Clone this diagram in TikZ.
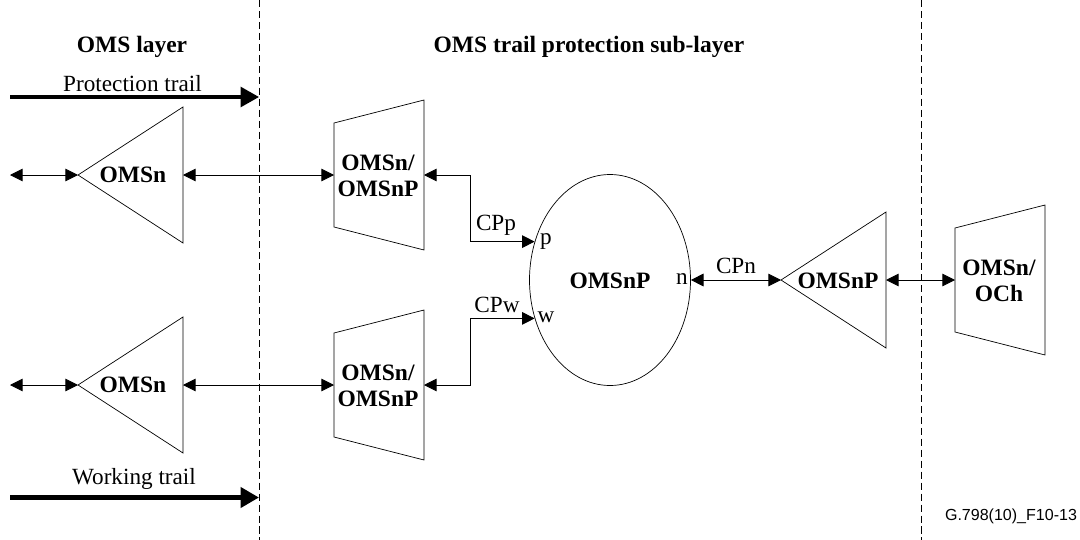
\documentclass[tikz,border=0pt]{standalone}
\usepackage{fontspec}
\setmainfont{Liberation Serif}
\newfontfamily\capfont{Liberation Sans}
\usepackage{tikz}
\usetikzlibrary{positioning,arrows.meta,shapes.geometric}
% triangle pointing left: apex name-l, back side name-r
\newcommand{\trishape}[3]{%
  \coordinate (#1-l) at (#2,#3);
  \coordinate (#1-r) at (#2+105,#3);
  \draw[shp] (#1-l) -- (#2+105,#3-68) -- (#1-r) -- (#2+105,#3+68) -- cycle;
}
% trapezium widening to the right
\newcommand{\trapshape}[3]{%
  \coordinate (#1-l) at (#2,#3);
  \coordinate (#1-r) at (#2+90,#3);
  \draw[shp] (#1-l) -- (#2,#3-52) -- (#2+90,#3-75) -- (#1-r) -- (#2+90,#3+75) -- (#2,#3+52) -- cycle;
}
\begin{document}
\begin{tikzpicture}[x=0.025cm,y=-0.025cm,
  shp/.style={draw,line width=0.5pt,line join=miter},
  lbl/.style={font=\fontsize{16.7}{18.7}\selectfont\bfseries,align=center,inner sep=0pt},
  txt/.style={font=\fontsize{16.5}{18}\selectfont,inner sep=0pt},
  bi/.style={{Stealth[length=9pt,width=9pt,inset=0pt]}-{Stealth[length=9pt,width=9pt,inset=0pt]},line width=0.6pt},
  trail/.style={-{Stealth[length=13pt,width=14pt,inset=0pt]},line width=2.4pt},
  bound/.style={draw,line width=0.5pt,dash pattern=on 5pt off 2.8pt}]
  \useasboundingbox (0,0) rectangle (1080,540);
  % layer boundaries
  \coordinate (b1t) at (259,0);
  \coordinate (b1b) at (259,540);
  \coordinate (b2t) at (921,0);
  \coordinate (b2b) at (921,540);
  \draw[bound] (b1t) -- (b1b);
  \draw[bound] (b2t) -- (b2b);
  % headings
  \node[lbl] (h1) at (132,47) {OMS layer};
  \node[lbl] (h2) at (589,47) {OMS trail protection sub-layer};
  % trails
  \coordinate (pt0) at (10,97);
  \coordinate (pt1) at (259,97);
  \coordinate (wt0) at (10,497.5);
  \coordinate (wt1) at (259,497.5);
  \draw[trail] (pt0) -- (pt1);
  \draw[trail,line width=3.4pt] (wt0) -- (wt1);
  \node[txt] (ptl) at (132.5,84) {Protection trail};
  \node[txt] (wtl) at (134,479) {Working trail};
  % functions
  \trishape{ta}{78}{175}
  \trishape{tb}{78}{385}
  \trapshape{ma}{334}{175}
  \trapshape{mb}{334}{385}
  \trishape{tc}{781}{280}
  \trapshape{mc}{955}{280}
  \node[lbl] (tal) at (133,175) {OMSn};
  \node[lbl] (tbl) at (133,385) {OMSn};
  \node[lbl] (mal) at (378,176) {OMSn/\\OMSnP};
  \node[lbl] (mbl) at (378,386) {OMSn/\\OMSnP};
  \node[lbl] (tcl) at (838,281) {OMSnP};
  \node[lbl] (mcl) at (999,281) {OMSn/\\OCh};
  \node[ellipse,draw,line width=0.5pt,minimum width=161*0.025cm,minimum height=211*0.025cm,inner sep=0pt] (sw) at (610,280) {};
  \node[lbl] (swl) at (610,281) {OMSnP};
  % stubs and links
  \coordinate (sa) at (10,175);
  \coordinate (sb) at (10,385);
  \coordinate (ka) at (470,175);
  \coordinate (kb) at (470,385);
  \draw[bi] (sa) -- (ta-l);
  \draw[bi] (sb) -- (tb-l);
  \draw[bi] (ta-r) -- (ma-l);
  \draw[bi] (tb-r) -- (mb-l);
  \draw[bi] (ma-r) -- (ka) |- (sw.153);
  \draw[bi] (mb-r) -- (kb) |- (sw.207);
  \draw[bi] (sw.east) -- (tc-l);
  \draw[bi] (tc-r) -- (mc-l);
  % connection points
  \node[txt] (cpp) at (496,225) {CPp};
  \node[txt] (cpw) at (497,305) {CPw};
  \node[txt] (cpn) at (736,266) {CPn};
  \node[txt] (pp) at (546,241) {p};
  \node[txt] (pw) at (546,317) {w};
  \node[txt] (pn) at (682,279) {n};
  \node[font=\capfont\fontsize{11.4}{13}\selectfont,inner sep=0pt] (ref) at (1011,516) {G.798(10)\_F10-13};
\end{tikzpicture}
\end{document}
